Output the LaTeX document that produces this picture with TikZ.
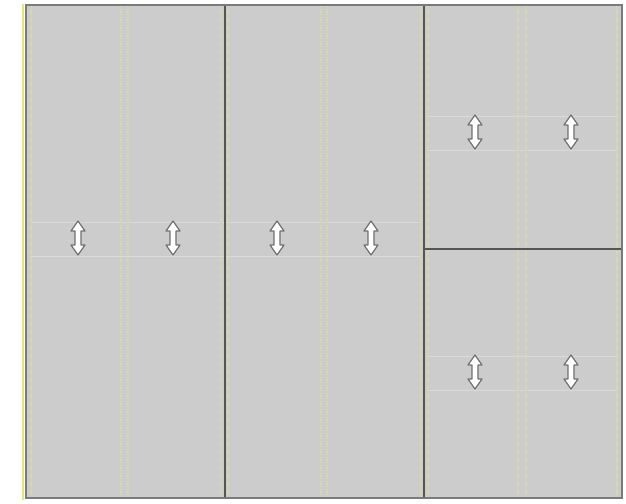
\documentclass[tikz,border=0pt]{standalone}
\usetikzlibrary{calc}
\definecolor{panel}{HTML}{CCCCCC}
\definecolor{edge}{HTML}{7A7A7A}
\definecolor{divider}{HTML}{555555}
\definecolor{guide}{HTML}{DCDCA0}
\definecolor{arrowedge}{HTML}{707070}
\tikzset{
  panelbox/.style={fill=panel, draw=edge, line width=1.2pt},
  dividerline/.style={draw=divider, line width=1.6pt},
  guideline/.style={draw=guide, line width=1.1pt, dash pattern=on 1pt off 1pt},
  faint/.style={draw=white!25!panel, line width=0.5pt},
  dblarrow/.pic={
    \filldraw[fill=white, draw=arrowedge, line width=0.9pt, line join=round]
      (0,-17) -- (-7,-7) -- (-3,-7) -- (-3,7) -- (-7,7) -- (0,17)
      -- (7,7) -- (3,7) -- (3,-7) -- (7,-7) -- cycle;
  }
}
\begin{document}
\begin{tikzpicture}[x=0.75pt, y=-0.75pt]
\useasboundingbox[fill=white] (0,0) rectangle (626,504);
% left yellow edge
\draw[draw=guide!70!yellow, line width=1.2pt] (23,4) -- (23,500);
% panel
\path[panelbox] (26,5) rectangle (622,498);
% faint horizontal lines near arrows
\foreach \y in {222,256} \draw[faint] (30,\y) -- (420,\y);
\foreach \y in {116,150,356,390} \draw[faint] (428,\y) -- (618,\y);
% guides
\foreach \x in {31,121,128,221,228,321,327,421,428,518,526,617}
  \draw[guideline] (\x,6) -- (\x,497);
% dividers
\draw[dividerline] (225,5) -- (225,498);
\draw[dividerline] (424,5) -- (424,498);
\draw[dividerline] (424,249) -- (622,249);
% outer border again on top
\draw[draw=edge, line width=1.2pt] (26,5) rectangle (622,498);
% arrows
\foreach \x/\y/\n in {78/238/a1,173/238/a2,277/238/a3,371/238/a4,475/132/a5,571/132/a6,475/372/a7,571/372/a8}
  \pic (\n) at (\x,\y) {dblarrow};
\end{tikzpicture}
\end{document}
